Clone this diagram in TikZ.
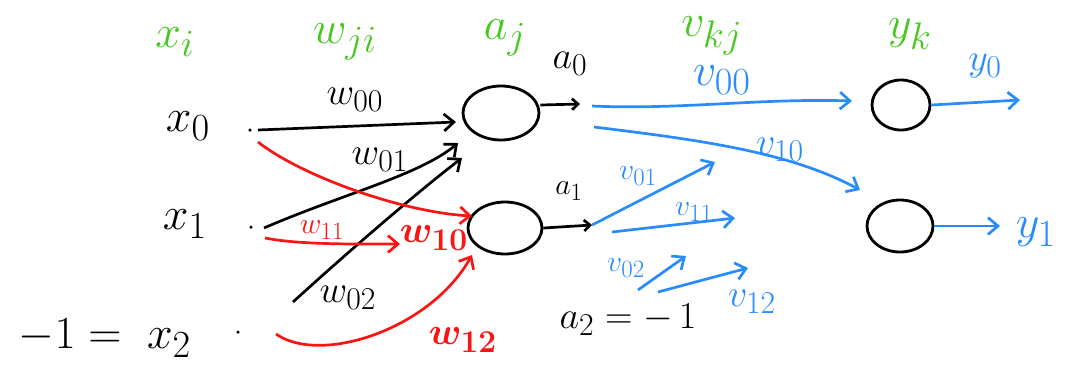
\documentclass[tikz,border=0pt]{standalone}
\usepackage{amsmath,bm}
\usetikzlibrary{arrows.meta,shapes.geometric}
\definecolor{hgreen}{RGB}{70,200,30}
\definecolor{hblue}{RGB}{40,140,255}
\definecolor{hred}{RGB}{250,20,20}
\begin{document}
\begin{tikzpicture}[x=1pt,y=-1pt,
  neuron/.style={draw=black,ellipse,line width=2.8pt,inner sep=0pt},
  dotnode/.style={circle,fill=black,inner sep=0pt,minimum size=3.5pt},
  conn/.style={line width=2.7pt,-{Straight Barb[length=10pt,width=17pt,line width=2.7pt]}},
  sconn/.style={line width=2.7pt,-{Straight Barb[length=6pt,width=11pt,line width=2.7pt]}},
  big/.style={font=\Huge,scale=1.85,inner sep=0pt},
  mid/.style={font=\Huge,scale=1.53,inner sep=0pt},
  small/.style={font=\Huge,scale=1.2,inner sep=0pt}]
\useasboundingbox[fill=white] (0,0) rectangle (1066,365);
% green headers
\node[big,text=hgreen] (hx) at (175,42) {$x_i$};
\node[big,text=hgreen] (hw) at (345,42) {$w_{ji}$};
\node[big,text=hgreen] (ha) at (505,38) {$a_j$};
\node[big,text=hgreen] (hv) at (712,36) {$v_{kj}$};
\node[big,text=hgreen] (hy) at (910,34) {$y_k$};
% neurons
\node[neuron,minimum width=76pt,minimum height=54pt] (a0) at (501,113) {};
\node[neuron,minimum width=74pt,minimum height=52pt] (a1) at (505,228) {};
\node[neuron,minimum width=58pt,minimum height=50pt] (y0) at (901,105) {};
\node[neuron,minimum width=66pt,minimum height=52pt] (y1) at (900,226) {};
% inputs
\node[big] (x0) at (188,126) {$x_0$};
\node[big] (x1) at (185,224) {$x_1$};
\node[big] (x2) at (105,338) {$-1=\;x_2$};
\node[dotnode] (d0) at (250,130) {};
\node[dotnode] (d1) at (251,227) {};
\node[dotnode] (d2) at (238,332) {};
% coordinates
\coordinate (s00) at (258,130);
\coordinate (e00) at (456,122);
\coordinate (s01) at (264,228);
\coordinate (e01) at (458,143);
\coordinate (s02) at (293,302);
\coordinate (e02) at (462,158);
\coordinate (s10) at (258,142);
\coordinate (e10) at (472,216);
\coordinate (s11) at (265,238);
\coordinate (e11) at (400,244);
\coordinate (s12) at (276,334);
\coordinate (e12) at (472,255);
% black weights
\draw[conn] (s00) -- (e00);
\draw[conn] (s01) .. controls (340,195) and (420,175) .. (e01);
\draw[conn] (s02) .. controls (350,250) and (420,190) .. (e02);
\node[mid] (w00) at (355,100) {$w_{00}$};
\node[mid] (w01) at (380,160) {$w_{01}$};
\node[mid] (w02) at (348,298) {$w_{02}$};
% red weights
\draw[conn,hred] (s10) .. controls (300,175) and (400,212) .. (e10);
\draw[conn,hred] (s11) .. controls (300,245) and (360,244) .. (e11);
\draw[conn,hred] (s12) .. controls (320,365) and (430,330) .. (e12);
\node[small,text=hred] (w11) at (322,230) {$w_{11}$};
\node[mid,text=hred] (w10) at (434,238) {$\bm{w_{10}}$};
\node[mid,text=hred] (w12) at (463,340) {$\bm{w_{12}}$};
% hidden outputs
\coordinate (o0) at (580,104);
\coordinate (o1) at (592,225);
\draw[sconn] (a0.east) ++(0,-8) -- (o0);
\draw[sconn] (a1.east) -- (o1);
\node[mid] (la0) at (570,64) {$a_0$};
\node[small] (la1) at (569,191) {$a_1$};
\node[mid] (la2) at (628,320) {$a_2=-\,1$};
% blue weights
\coordinate (b00) at (592,106);
\coordinate (e0v) at (852,101);
\coordinate (b10) at (594,127);
\coordinate (e1v) at (860,190);
\coordinate (c11) at (612,232);
\coordinate (f11) at (735,218);
\coordinate (c02) at (638,290);
\coordinate (f02) at (686,256);
\coordinate (c12) at (658,292);
\coordinate (f12) at (748,268);
\coordinate (f01) at (715,162);
\draw[conn,hblue] (b00) .. controls (680,110) and (760,98) .. (e0v);
\draw[conn,hblue] (b10) .. controls (700,140) and (790,152) .. (e1v);
\draw[conn,hblue] (o1) -- (f01);
\draw[conn,hblue] (c11) -- (f11);
\draw[conn,hblue] (c02) -- (f02);
\draw[conn,hblue] (c12) -- (f12);
\node[big,text=hblue] (v00) at (722,80) {$v_{00}$};
\node[mid,text=hblue] (v10) at (780,150) {$v_{10}$};
\node[small,text=hblue] (v01) at (638,176) {$v_{01}$};
\node[small,text=hblue] (v11) at (694,212) {$v_{11}$};
\node[small,text=hblue] (v02) at (626,268) {$v_{02}$};
\node[mid,text=hblue] (v12) at (752,302) {$v_{12}$};
% outputs
\coordinate (g0) at (1020,100);
\coordinate (g1) at (1000,226);
\draw[conn,hblue] (y0.east) -- (g0);
\draw[conn,hblue] (y1.east) -- (g1);
\node[mid,text=hblue] (ly0) at (985,66) {$y_0$};
\node[big,text=hblue] (ly1) at (1036,232) {$y_1$};
\end{tikzpicture}
\end{document}
